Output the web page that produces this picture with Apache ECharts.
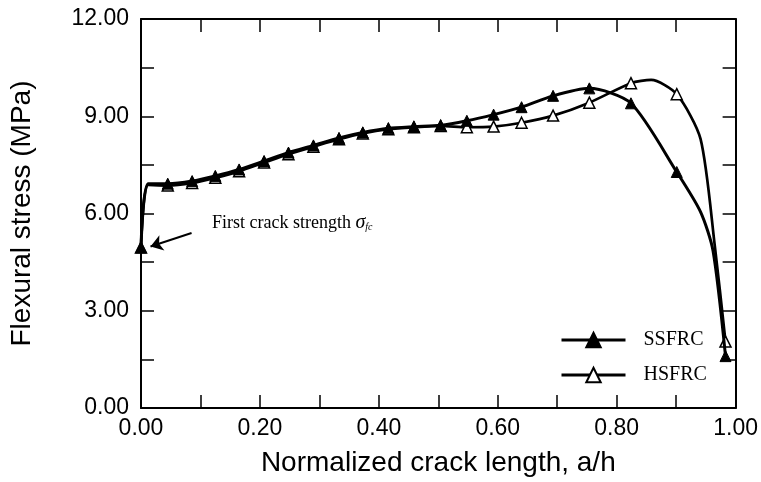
<!DOCTYPE html>
<html>
<head>
<meta charset="utf-8">
<script src="https://cdn.jsdelivr.net/npm/echarts@6/dist/echarts.min.js"></script>
<style>
html,body{margin:0;padding:0;background:#fff;}
#chart{width:761px;height:482px;}
</style>
</head>
<body>
<div id="chart"></div>
<script>
// ---- data ----
var xTickLabels = ['0.00','0.20','0.40','0.60','0.80','1.00'];
var yTickLabels = ['0.00','3.00','6.00','9.00','12.00'];
var seriesNames = ['SSFRC','HSFRC'];

// SSFRC: marked points (x = a/h, y = stress in MPa)
var ssfrcX = [0.000, 0.045, 0.086, 0.125, 0.165, 0.207, 0.248, 0.290, 0.333, 0.373, 0.416, 0.459, 0.504, 0.548, 0.593, 0.640, 0.693, 0.754, 0.824, 0.901, 0.983];
var ssfrcY = [4.95, 6.92, 7.00, 7.16, 7.36, 7.62, 7.88, 8.10, 8.33, 8.50, 8.63, 8.68, 8.72, 8.86, 9.05, 9.28, 9.63, 9.86, 9.40, 7.28, 1.60];
// SSFRC: points on the curve without a marker
var ssfrcCurveX = [0.012, 0.941, 0.962];
var ssfrcCurveY = [6.92, 6.05, 4.85];

// HSFRC: marked points
var hsfrcX = [0.000, 0.045, 0.086, 0.125, 0.165, 0.207, 0.248, 0.290, 0.333, 0.373, 0.416, 0.459, 0.504, 0.548, 0.593, 0.640, 0.693, 0.754, 0.824, 0.901, 0.983];
var hsfrcY = [4.95, 6.86, 6.94, 7.10, 7.30, 7.57, 7.83, 8.06, 8.29, 8.47, 8.60, 8.66, 8.70, 8.66, 8.68, 8.80, 9.02, 9.42, 10.02, 9.68, 2.05];
// HSFRC: points on the curve without a marker
var hsfrcCurveX = [0.012, 0.858, 0.941, 0.965];
var hsfrcCurveY = [6.88, 10.12, 8.30, 5.00];

// annotation arrow (from, to) in data units
var arrowFrom = [0.085, 5.40];
var arrowTo = [0.016, 4.98];
var annotationText = 'First crack strength ';
var xName = 'Normalized crack length, a/h';
var yName = 'Flexural stress (MPa)';

function buildData(mx, my, cx, cy) {
  var pts = [];
  for (var i = 0; i < mx.length; i++) pts.push({value: [mx[i], my[i]]});
  for (var j = 0; j < cx.length; j++) pts.push({value: [cx[j], cy[j]], symbol: 'none'});
  pts.sort(function (a, b) { return a.value[0] - b.value[0]; });
  return pts;
}

var chart = echarts.init(document.getElementById('chart'), null, {renderer: 'canvas'});
var sans = 'Liberation Sans, Arial, Helvetica, sans-serif';
var serif = 'Liberation Serif, Times New Roman, serif';
var labelFont = {fontFamily: sans, fontSize: 23, color: '#000'};
var nameFont = {fontFamily: sans, fontSize: 28, color: '#000'};

function fmtX(v) {
  var s = v.toFixed(2);
  return xTickLabels.indexOf(s) >= 0 ? s : '';
}
function fmtY(v) {
  var s = v.toFixed(2);
  return yTickLabels.indexOf(s) >= 0 ? s : '';
}

var axisLine = {show: true, onZero: false, lineStyle: {color: '#000', width: 2}};
var axisTick = {show: true, inside: true, length: 13, lineStyle: {color: '#000', width: 1.5}};

var option = {
  backgroundColor: '#fff',
  animation: false,
  grid: {left: 138, right: 25, top: 19, bottom: 71},
  legend: {
    orient: 'vertical',
    left: 555,
    top: 325,
    itemWidth: 64,
    itemHeight: 18,
    itemGap: 15,
    lineStyle: {width: 3, color: '#000'},
    textStyle: {fontFamily: serif, fontSize: 20, lineHeight: 20, color: '#000', padding: [0, 0, 0, 13]},
    data: seriesNames
  },
  xAxis: [{
    type: 'value', min: 0, max: 1, interval: 0.1,
    name: xName, nameLocation: 'middle', nameGap: 41, nameTextStyle: nameFont,
    axisLine: axisLine, axisTick: axisTick, splitLine: {show: false},
    axisLabel: Object.assign({margin: 9, formatter: fmtX, showMaxLabel: true, showMinLabel: true}, labelFont)
  }, {
    type: 'value', min: 0, max: 1, interval: 0.1, position: 'top',
    axisLine: axisLine, axisTick: axisTick, splitLine: {show: false}, axisLabel: {show: false}
  }],
  yAxis: [{
    type: 'value', min: 0, max: 12, interval: 1.5,
    name: yName, nameLocation: 'middle', nameGap: 105, nameTextStyle: nameFont,
    axisLine: axisLine, axisTick: axisTick, splitLine: {show: false},
    axisLabel: Object.assign({margin: 12, formatter: fmtY}, labelFont)
  }, {
    type: 'value', min: 0, max: 12, interval: 1.5, position: 'right',
    axisLine: axisLine, axisTick: axisTick, splitLine: {show: false}, axisLabel: {show: false}
  }],
  series: [{
    name: seriesNames[0],
    type: 'line',
    smooth: 0.25,
    symbol: 'triangle',
    symbolSize: 11,
    lineStyle: {color: '#000', width: 3},
    itemStyle: {color: '#000', borderColor: '#000', borderWidth: 1},
    data: buildData(ssfrcX, ssfrcY, ssfrcCurveX, ssfrcCurveY),
    z: 3
  }, {
    name: seriesNames[1],
    type: 'line',
    smooth: 0.25,
    symbol: 'triangle',
    symbolSize: 11,
    lineStyle: {color: '#000', width: 2.7},
    itemStyle: {color: '#fff', borderColor: '#000', borderWidth: 1.5},
    data: buildData(hsfrcX, hsfrcY, hsfrcCurveX, hsfrcCurveY),
    z: 2
  }, {
    name: 'annotation',
    type: 'lines',
    coordinateSystem: 'cartesian2d',
    silent: true,
    z: 10,
    symbol: ['none', 'arrow'],
    symbolSize: 12,
    lineStyle: {color: '#000', width: 2, opacity: 1},
    itemStyle: {color: '#000'},
    data: [{coords: [arrowFrom, arrowTo]}]
  }],
  graphic: [{
    type: 'text',
    left: 212,
    top: 213,
    style: {
      text: annotationText + '{s|σ}{sub|fc}',
      fontFamily: serif,
      fontSize: 18,
      fill: '#000',
      rich: {
        s: {fontFamily: serif, fontSize: 20, fontStyle: 'italic', fill: '#000'},
        sub: {fontFamily: serif, fontSize: 10, fontStyle: 'italic', fill: '#000', padding: [9, 0, 0, 0]}
      }
    }
  }]
};
chart.setOption(option);
</script>
</body>
</html>
